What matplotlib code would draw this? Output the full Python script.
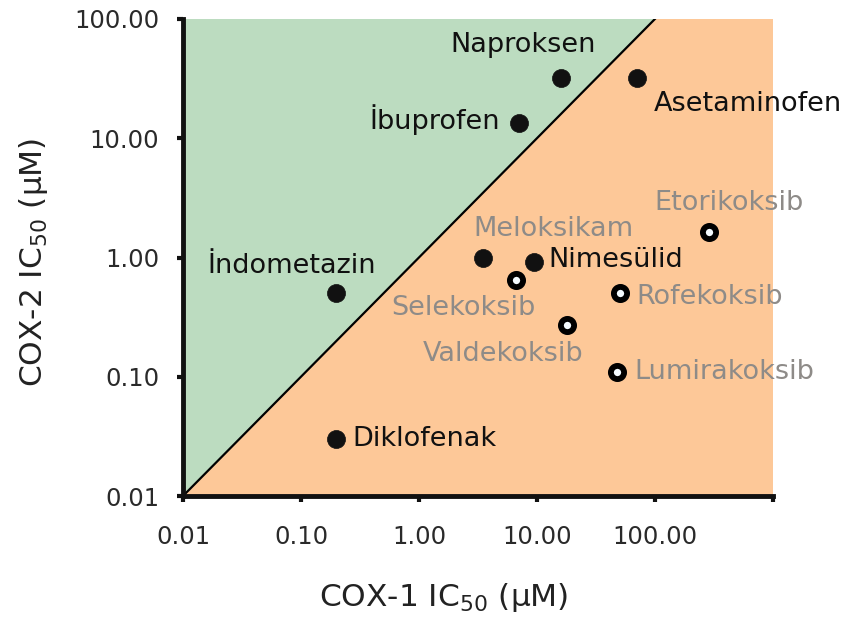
import matplotlib.pyplot as plt
from matplotlib.ticker import FixedLocator, FixedFormatter

# COX-1 / COX-2 IC50 values (uM)
names = ["Naproksen", "Asetaminofen", "İbuprofen", "İndometazin", "Diklofenak",
         "Meloksikam", "Nimesülid", "Selekoksib", "Valdekoksib", "Rofekoksib",
         "Lumirakoksib", "Etorikoksib"]
cox1 = [16, 71, 7.0, 0.20, 0.20, 3.5, 9.4, 6.7, 18, 51, 48, 290]
cox2 = [32, 32, 13.4, 0.50, 0.03, 1.0, 0.91, 0.65, 0.27, 0.50, 0.11, 1.65]
coxib = [False, False, False, False, False, False, False, True, True, True, True, True]
grey_label = [False, False, False, False, False, True, False, True, True, True, True, True]

tick_vals = [0.01, 0.1, 1, 10, 100]
tick_text = ["0.01", "0.10", "1.00", "10.00", "100.00"]

# label placement (pixel offset from the point, horizontal alignment)
label_pos = {
    "Naproksen": (-38, 33, "center"),
    "Asetaminofen": (110, -26, "center"),
    "İbuprofen": (-19, 4, "right"),
    "İndometazin": (-45, 27, "center"),
    "Diklofenak": (16, 0, "left"),
    "Meloksikam": (70, 29, "center"),
    "Nimesülid": (15, 2, "left"),
    "Selekoksib": (-53, -28, "center"),
    "Valdekoksib": (-64, -29, "center"),
    "Rofekoksib": (16, -4, "left"),
    "Lumirakoksib": (17, 0, "left"),
    "Etorikoksib": (20, 29, "center"),
}

green = "#bcdcc0"
orange = "#fdc898"
grey = "#8e8b88"

fig = plt.figure(figsize=(8.55, 6.25), dpi=100)
ax = fig.add_axes([0.214, 0.2064, 0.69, 0.7632])
ax.set_xscale("log")
ax.set_yscale("log")
ax.set_xlim(0.01, 1000)
ax.set_ylim(0.01, 100)

# selectivity regions split by the line COX-1 = COX-2
ax.fill([0.01, 100, 0.01], [0.01, 100, 100], color=green, lw=0, zorder=0)
ax.fill([0.01, 1000, 1000, 100], [0.01, 0.01, 100, 100], color=orange, lw=0, zorder=0)
ax.plot([0.01, 100], [0.01, 100], color="black", lw=1.6, zorder=1)

for n, x, y, c, g in zip(names, cox1, cox2, coxib, grey_label):
    if c:
        ax.plot(x, y, "o", ms=9.5, mfc="#f4fbff", mec="black", mew=4.2, zorder=3)
    else:
        ax.plot(x, y, "o", ms=13, mfc="#111111", mec="#111111", mew=0.5, zorder=3)
    dx, dy, ha = label_pos[n]
    ax.annotate(n, (x, y), xytext=(dx, dy), textcoords="offset pixels",
                ha=ha, va="center", fontsize=19.5,
                color=grey if g else "#111111", zorder=4)

for s in ["top", "right"]:
    ax.spines[s].set_visible(False)
for s in ["left", "bottom"]:
    ax.spines[s].set_linewidth(3.5)
    ax.spines[s].set_color("#111111")

ax.xaxis.set_major_locator(FixedLocator(tick_vals + [1000]))
ax.xaxis.set_major_formatter(FixedFormatter(tick_text + [""]))
ax.yaxis.set_major_locator(FixedLocator(tick_vals))
ax.yaxis.set_major_formatter(FixedFormatter(tick_text))
ax.minorticks_off()
ax.tick_params(which="major", direction="out", length=4, width=3, color="#111111",
               labelsize=17.5, labelcolor="#2a2a2a")
ax.tick_params(axis="x", pad=17)
ax.tick_params(axis="y", pad=13)

ax.set_xlabel("COX-1 IC$_{50}$ (μM)", fontsize=22.5, color="#222222")
ax.set_ylabel("COX-2 IC$_{50}$ (μM)", fontsize=22.5, color="#222222")
ax.xaxis.set_label_coords(0.442, -0.178)
ax.yaxis.set_label_coords(-0.226, 0.49)

fig.savefig("out.png", dpi=100)
